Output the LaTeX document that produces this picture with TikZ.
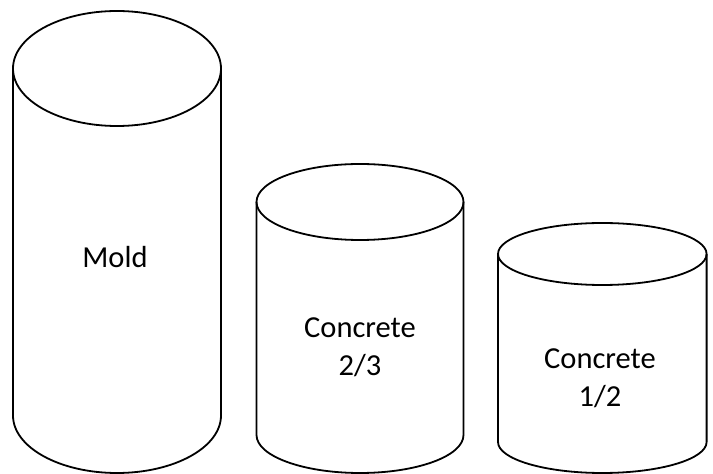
\documentclass[tikz,border=0pt]{standalone}
\usepackage{fontspec}
\setmainfont{Carlito}
\begin{document}
\begin{tikzpicture}[x=1pt,y=1pt,
  can/.style={draw=black,line width=1.8pt,line join=round},
  lbl/.style={align=center,inner sep=0pt,font=\fontsize{30.5}{38}\selectfont}]
\useasboundingbox (0,0) rectangle (713,474);
% Mold
\draw[can] (13,405.5) -- (13,58.5) arc[start angle=180,end angle=360,x radius=104pt,y radius=57.5pt] -- (221,405.5);
\draw[can] (117,405.5) ellipse[x radius=104pt,y radius=57.5pt];
% Concrete 2/3
\draw[can] (256.5,272) -- (256.5,39) arc[start angle=180,end angle=360,x radius=103.5pt,y radius=38pt] -- (463.5,272);
\draw[can] (360,272) ellipse[x radius=103.5pt,y radius=38pt];
% Concrete 1/2
\draw[can] (498,220) -- (498,32) arc[start angle=180,end angle=360,x radius=104.3pt,y radius=31pt] -- (706.6,220);
\draw[can] (602.3,220) ellipse[x radius=104.3pt,y radius=31pt];
\node[lbl] (mold) at (115,217) {Mold};
\node[lbl] (c23) at (360,127) {Concrete\\2/3};
\node[lbl] (c12) at (600,96) {Concrete\\1/2};
\end{tikzpicture}
\end{document}
